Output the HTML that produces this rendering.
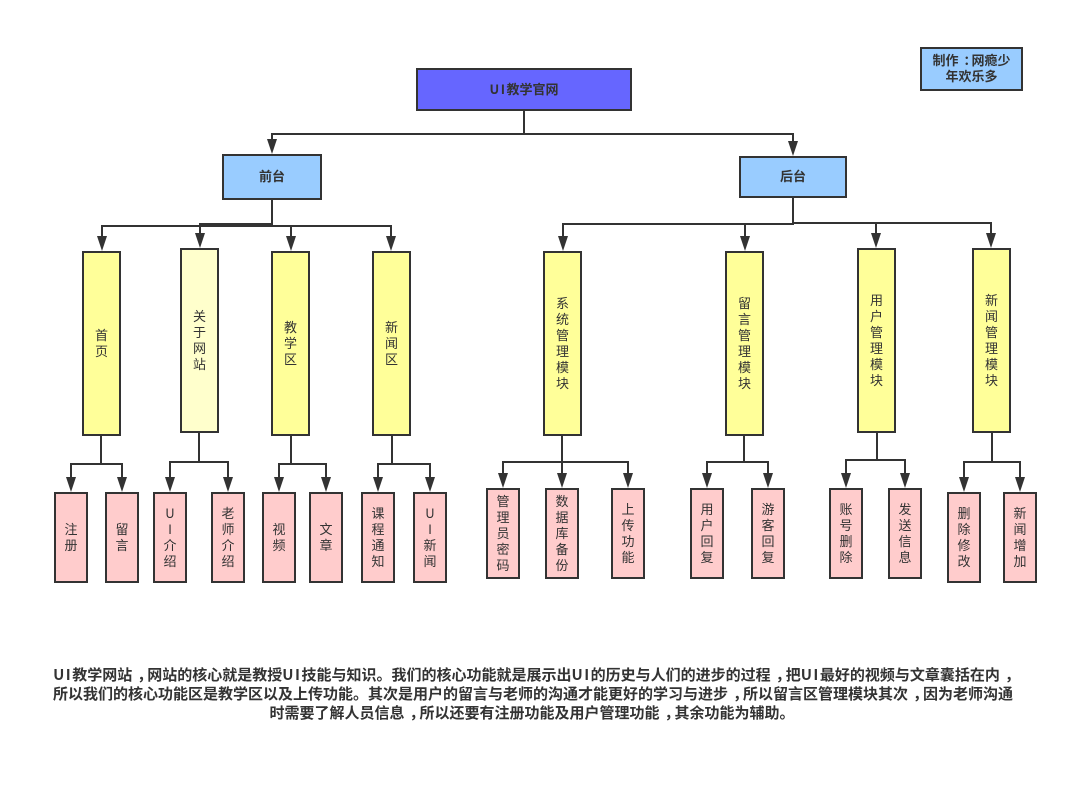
<!DOCTYPE html>
<html lang="zh">
<head>
<meta charset="utf-8">
<title>UI教学官网</title>
<style>
html,body{margin:0;padding:0;background:#fff}
#p{position:relative;width:1068px;height:790px;overflow:hidden;background:#fff;font-family:"WenQuanYi Zen Hei","Noto Sans CJK SC",sans-serif;color:#333}
svg{position:absolute;left:0;top:0}
.b{position:absolute;box-sizing:border-box;border:2px solid #333;padding-bottom:2px;display:flex;align-items:center;justify-content:center;text-align:center;font-size:13px;line-height:16px}
.y{background:#ffff99;width:39px;height:185px}
.n{background:#ffffcc;width:39px;height:185px}
.r{background:#ffcccc;width:34px;height:91px}
.h{background:#99ccff;font-weight:bold;font-size:13px}
.t{position:absolute;left:0;width:1064px;text-align:center;font-size:15px;font-weight:bold;line-height:19px;white-space:nowrap}
.u{letter-spacing:1.5px}
.c{display:inline-block;transform:translateX(5px)}
</style>
</head>
<body>
<div id="p">
<svg width="1068" height="790" viewBox="0 0 1068 790" fill="none" stroke="#333" stroke-width="2">
<path d="M524 110V134M272 141V134H793V141"/>
<path d="M272 199V226M102 237V226H391V237M291 226V237M272 224H200V234"/>
<path d="M793 197V224H563V237M745 224V237M793 223H991V234M876 223V234"/>
<path d="M101 435V464M71 478V464H122V478"/>
<path d="M199 432V462M170 478V462H228V478"/>
<path d="M291 435V464M279 478V464H326V478"/>
<path d="M392 435V464M378 478V464H430V478"/>
<path d="M562 435V462M503 474V462H628V474M562 462V474"/>
<path d="M744 435V462M707 474V462H768V474"/>
<path d="M877 432V460M846 474V460H905V474"/>
<path d="M992 432V462M964 478V462H1020V478"/>
<g fill="#333" stroke="none">
<path d="M267 139H277L272 154Z"/><path d="M788 141H798L793 156Z"/>
<path d="M97 236H107L102 251Z"/><path d="M195 233H205L200 248Z"/><path d="M286 236H296L291 251Z"/><path d="M386 236H396L391 251Z"/>
<path d="M558 236H568L563 251Z"/><path d="M740 236H750L745 251Z"/><path d="M871 233H881L876 248Z"/><path d="M986 233H996L991 248Z"/>
<path d="M66 477H76L71 492Z"/><path d="M117 477H127L122 492Z"/><path d="M165 477H175L170 492Z"/><path d="M223 477H233L228 492Z"/>
<path d="M274 477H284L279 492Z"/><path d="M321 477H331L326 492Z"/><path d="M373 477H383L378 492Z"/><path d="M425 477H435L430 492Z"/>
<path d="M498 473H508L503 488Z"/><path d="M557 473H567L562 488Z"/><path d="M623 473H633L628 488Z"/>
<path d="M702 473H712L707 488Z"/><path d="M763 473H773L768 488Z"/><path d="M841 473H851L846 488Z"/><path d="M900 473H910L905 488Z"/>
<path d="M959 477H969L964 492Z"/><path d="M1015 477H1025L1020 492Z"/>
</g>
</svg>

<div class="b h" style="left:416px;top:68px;width:216px;height:43px;background:#6666ff"><span><span class="u">UI</span>教学官网</span></div>
<div class="b h" style="left:222px;top:154px;width:100px;height:46px">前台</div>
<div class="b h" style="left:739px;top:156px;width:108px;height:42px">后台</div>
<div class="b h" style="left:920px;top:47px;width:103px;height:44px"><span>制作<span class="c">：</span>网瘾少<br>年欢乐多</span></div>

<div class="b y" style="left:82px;top:251px"><span>首<br>页</span></div>
<div class="b n" style="left:180px;top:248px"><span>关<br>于<br>网<br>站</span></div>
<div class="b y" style="left:271px;top:251px"><span>教<br>学<br>区</span></div>
<div class="b y" style="left:372px;top:251px"><span>新<br>闻<br>区</span></div>
<div class="b y" style="left:543px;top:251px"><span>系<br>统<br>管<br>理<br>模<br>块</span></div>
<div class="b y" style="left:725px;top:251px"><span>留<br>言<br>管<br>理<br>模<br>块</span></div>
<div class="b y" style="left:857px;top:248px"><span>用<br>户<br>管<br>理<br>模<br>块</span></div>
<div class="b y" style="left:972px;top:248px"><span>新<br>闻<br>管<br>理<br>模<br>块</span></div>

<div class="b r" style="left:54px;top:492px"><span>注<br>册</span></div>
<div class="b r" style="left:105px;top:492px"><span>留<br>言</span></div>
<div class="b r" style="left:153px;top:492px"><span>U<br>I<br>介<br>绍</span></div>
<div class="b r" style="left:211px;top:492px"><span>老<br>师<br>介<br>绍</span></div>
<div class="b r" style="left:262px;top:492px"><span>视<br>频</span></div>
<div class="b r" style="left:309px;top:492px"><span>文<br>章</span></div>
<div class="b r" style="left:361px;top:492px"><span>课<br>程<br>通<br>知</span></div>
<div class="b r" style="left:413px;top:492px"><span>U<br>I<br>新<br>闻</span></div>
<div class="b r" style="left:486px;top:488px"><span>管<br>理<br>员<br>密<br>码</span></div>
<div class="b r" style="left:545px;top:488px"><span>数<br>据<br>库<br>备<br>份</span></div>
<div class="b r" style="left:611px;top:488px"><span>上<br>传<br>功<br>能</span></div>
<div class="b r" style="left:690px;top:488px"><span>用<br>户<br>回<br>复</span></div>
<div class="b r" style="left:751px;top:488px"><span>游<br>客<br>回<br>复</span></div>
<div class="b r" style="left:829px;top:488px"><span>账<br>号<br>删<br>除</span></div>
<div class="b r" style="left:888px;top:488px"><span>发<br>送<br>信<br>息</span></div>
<div class="b r" style="left:947px;top:492px"><span>删<br>除<br>修<br>改</span></div>
<div class="b r" style="left:1003px;top:492px"><span>新<br>闻<br>增<br>加</span></div>

<div class="t" style="top:665px;left:2px"><span class="u">UI</span>教学网站<span class="c">，</span>网站的核心就是教授<span class="u">UI</span>技能与知识。我们的核心功能就是展示出<span class="u">UI</span>的历史与人们的进步的过程<span class="c">，</span>把<span class="u">UI</span>最好的视频与文章囊括在内<span class="c">，</span></div>
<div class="t" style="top:684px;left:1px">所以我们的核心功能区是教学区以及上传功能。其次是用户的留言与老师的沟通才能更好的学习与进步<span class="c">，</span>所以留言区管理模块其次<span class="c">，</span>因为老师沟通</div>
<div class="t" style="top:703px">时需要了解人员信息<span class="c">，</span>所以还要有注册功能及用户管理功能<span class="c">，</span>其余功能为辅助。</div>
</div>
</body>
</html>
